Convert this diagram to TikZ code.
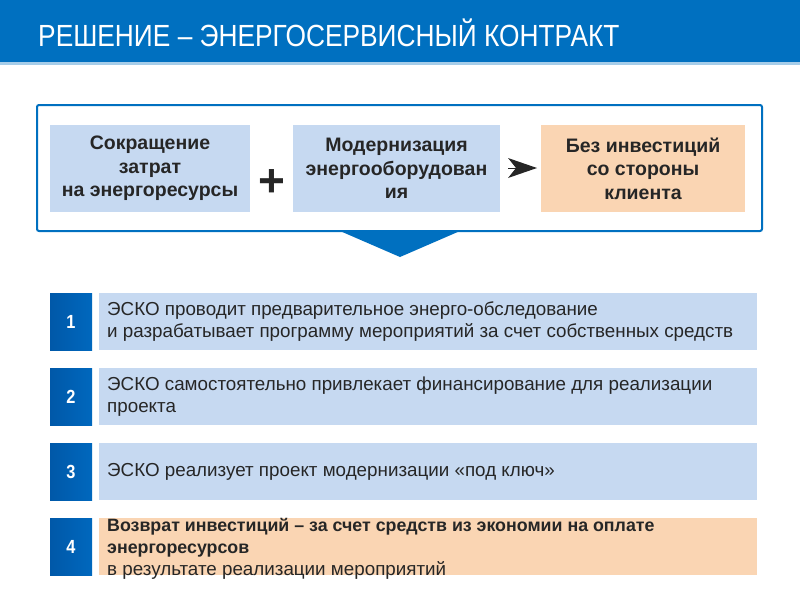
\documentclass[tikz,border=0pt]{standalone}
\usepackage{fontspec}
\setmainfont{Liberation Sans}
\newfontfamily\condensed{Liberation Sans}[FakeStretch=0.86]
\usetikzlibrary{arrows.meta,shadings}
\definecolor{hdr}{HTML}{0070C0}
\definecolor{lbl}{HTML}{C6D9F1}
\definecolor{peach}{HTML}{FAD5B3}
\definecolor{numdark}{HTML}{0058A8}
\definecolor{numlight}{HTML}{0068BE}
\definecolor{txt}{HTML}{262626}
\tikzset{
  topbox/.style={fill=#1, draw=none, minimum width=200pt, minimum height=87pt, align=center, font=\fontsize{19.5}{23.5}\selectfont\bfseries, text=txt, inner sep=0pt},
  numbox/.style={draw=none, left color=numdark, right color=numlight, minimum width=42pt, minimum height=57pt, text=white, font=\condensed\fontsize{19}{20}\selectfont\bfseries, inner sep=0pt},
  stepbox/.style={fill=#1, draw=none, minimum width=658pt, minimum height=57pt, inner sep=0pt},
  steptext/.style={anchor=west, align=left, font=\fontsize{18.8}{22}\selectfont, text=txt, inner sep=0pt}
}
\begin{document}
\begin{tikzpicture}[x=1pt,y=-1pt]
\useasboundingbox (0,0) rectangle (800,600);
\fill[white] (0,0) rectangle (800,600);
% header
\fill[hdr] (0,0) rectangle (800,62);
\fill[hdr!35] (0,62) rectangle (800,65);
\node[anchor=west, text=white, font=\condensed\fontsize{30.6}{32}\selectfont, inner sep=0pt] (title) at (38,33) {РЕШЕНИЕ – ЭНЕРГОСЕРВИСНЫЙ КОНТРАКТ};
% outer box
\draw[hdr, line width=2pt, rounded corners=2pt, fill=white] (37,105) rectangle (762,231);
\node[topbox=lbl] (b1) at (150,168.5) {Сокращение\\затрат\\на энергоресурсы};
\node[topbox=lbl, minimum width=207pt] (b2) at (396.5,168.5) {Модернизация\\энергооборудован\\ия};
\node[topbox=peach, minimum width=204pt] (b3) at (643,168.5) {Без инвестиций\\со стороны\\клиента};
\node[font=\fontsize{46}{46}\selectfont\bfseries, text=txt, inner sep=0pt] (plus) at (272,183) {+};
\coordinate (arrS) at (508,168);
\coordinate (arrE) at (537,168);
\draw[-{Stealth[length=29pt,width=20pt,inset=8pt]}, line width=0pt, txt] (arrS) -- (arrE);
% triangle
\fill[hdr] (340,231) -- (460,231) -- (400,257) -- cycle;
% steps
\foreach \i/\y/\c in {1/321.5/lbl, 2/396.5/lbl, 3/471.5/lbl, 4/546.5/peach}{
  \node[numbox] (n\i) at (71,\y) {\i};
  \node[stepbox=\c, anchor=west] (s\i) at (99,\y) {};
}
\node[steptext] (t1) at ([xshift=8pt]s1.west) {ЭСКО проводит предварительное энерго-обследование\\и разрабатывает программу мероприятий за счет собственных средств};
\node[steptext] (t2) at ([xshift=8pt]s2.west) {ЭСКО самостоятельно привлекает финансирование для реализации\\проекта};
\node[steptext] (t3) at ([xshift=8pt]s3.west) {ЭСКО реализует проект модернизации «под ключ»};
\node[steptext, anchor=north west] (t4) at ([xshift=8pt,yshift=0pt]s4.north west) {{\fontsize{17.8}{22}\selectfont\bfseries Возврат инвестиций – за счет средств из экономии на оплате}\\{\fontsize{17.8}{22}\selectfont\bfseries энергоресурсов}\\в результате реализации мероприятий};
\end{tikzpicture}
\end{document}
